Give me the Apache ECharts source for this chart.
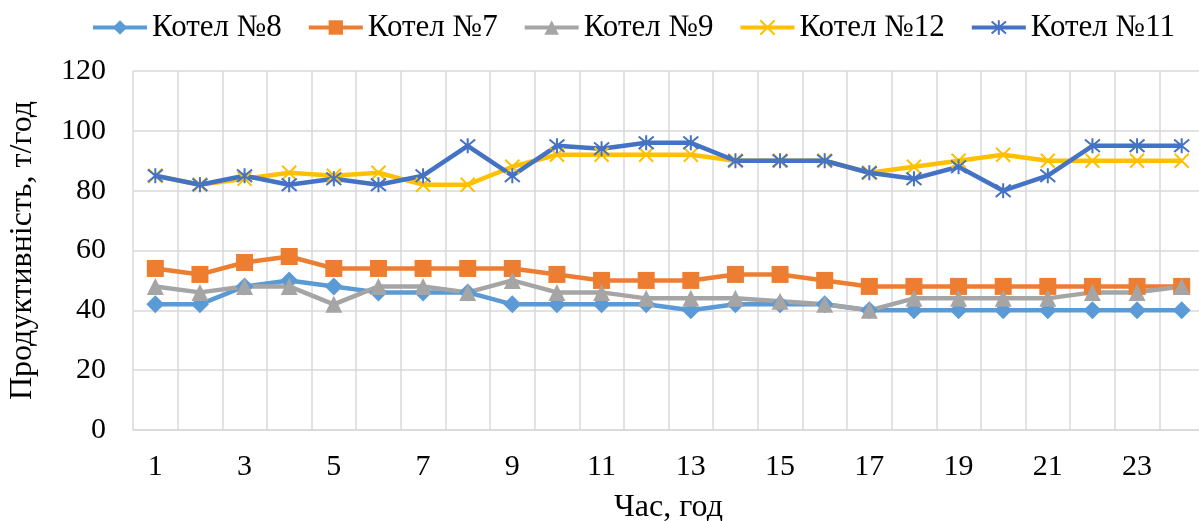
<!DOCTYPE html>
<html>
<head>
<meta charset="utf-8">
<script src="https://cdn.jsdelivr.net/npm/echarts@6/dist/echarts.min.js"></script>
<style>
  html, body { margin: 0; padding: 0; background: #fff; }
  #main { width: 1199px; height: 521px; }
</style>
</head>
<body>
<div id="main"></div>
<script>
// дані
var hours = ['1','2','3','4','5','6','7','8','9','10','11','12','13','14','15','16','17','18','19','20','21','22','23','24'];
var kotel8  = [42,42,48,50,48,46,46,46,42,42,42,42,40,42,42,42,40,40,40,40,40,40,40,40];
var kotel7  = [54,52,56,58,54,54,54,54,54,52,50,50,50,52,52,50,48,48,48,48,48,48,48,48];
var kotel9  = [48,46,48,48,42,48,48,46,50,46,46,44,44,44,43,42,40,44,44,44,44,46,46,48];
var kotel12 = [85,82,84,86,85,86,82,82,88,92,92,92,92,90,90,90,86,88,90,92,90,90,90,90];
var kotel11 = [85,82,85,82,84,82,85,95,85,95,94,96,96,90,90,90,86,84,88,80,85,95,95,95];
var yTicks = [0, 20, 40, 60, 80, 100, 120];

var font = "'Liberation Serif', 'Times New Roman', serif";
var xMark = 'path://M0 0 L10 10 M10 0 L0 10';
var starMark = 'path://M0 0 L10 10 M10 0 L0 10 M5 -1 L5 11';

function line(name, data, color, symbol, size, stroke) {
    return {
        name: name,
        type: 'line',
        data: data,
        symbol: symbol,
        symbolSize: size,
        lineStyle: { color: color, width: 4.5 },
        itemStyle: stroke
            ? { color: color, borderColor: color, borderWidth: 2 }
            : { color: color },
        emphasis: { disabled: true },
        z: 2
    };
}

var myChart = echarts.init(document.getElementById('main'));

var option = {
    animation: false,
    textStyle: { fontFamily: font },
    legend: {
        top: 7,
        left: 86,
        itemWidth: 54,
        itemHeight: 18,
        itemGap: 25,
        lineStyle: { width: 4 },
        textStyle: { fontFamily: font, fontSize: 31, color: '#000' }
    },
    grid: { left: 133, right: -5, top: 71, bottom: 91, outerBoundsMode: 'none' },
    xAxis: {
        type: 'category',
        data: hours,
        name: 'Час, год',
        nameLocation: 'middle',
        nameGap: 62,
        nameTextStyle: { fontFamily: font, fontSize: 32, color: '#000' },
        axisLine: { lineStyle: { color: '#d9d9d9', width: 1.5 } },
        axisTick: { show: false },
        axisLabel: { interval: 1, margin: 22, fontFamily: font, fontSize: 30, color: '#000' },
        splitLine: { show: true, interval: 0, lineStyle: { color: '#d9d9d9', width: 1.5 } }
    },
    yAxis: {
        type: 'value',
        min: yTicks[0],
        max: yTicks[yTicks.length - 1],
        interval: 20,
        name: 'Продуктивність, т/год',
        nameLocation: 'middle',
        nameGap: 94,
        nameTextStyle: { fontFamily: font, fontSize: 32, color: '#000' },
        axisLine: { show: false },
        axisTick: { show: false },
        axisLabel: { margin: 27, fontFamily: font, fontSize: 30, color: '#000' },
        splitLine: { lineStyle: { color: '#d9d9d9', width: 1.5 } }
    },
    series: [
        line('Котел №8', kotel8, '#5b9bd5', 'diamond', 18),
        line('Котел №7', kotel7, '#ed7d31', 'rect', 17),
        line('Котел №9', kotel9, '#a5a5a5', 'triangle', 17),
        line('Котел №12', kotel12, '#ffc000', xMark, 14, true),
        line('Котел №11', kotel11, '#4472c4', starMark, 15, true)
    ]
};

myChart.setOption(option);
</script>
</body>
</html>
